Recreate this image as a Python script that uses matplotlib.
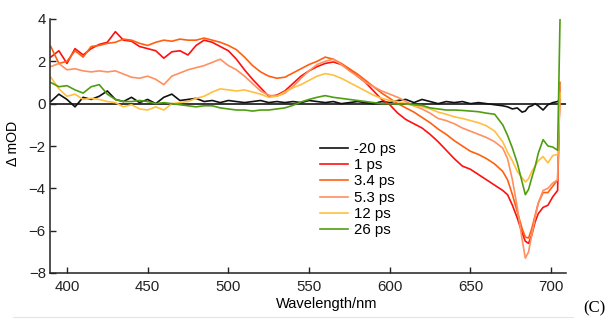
import matplotlib
matplotlib.use("Agg")
import matplotlib.pyplot as plt
from matplotlib.lines import Line2D

plt.rcParams['font.family'] = ['Liberation Sans', 'DejaVu Sans']

# wavelength grid (nm)
wavelength = [390, 395, 400, 405, 410, 415, 420, 425, 430, 435, 440, 445, 450, 455,
              460, 465, 470, 475, 480, 485, 490, 495, 500, 505, 510, 515, 520, 525,
              530, 535, 540, 545, 550, 555, 560, 565, 570, 575, 580, 585, 590, 595,
              600, 605, 610, 615, 620, 625, 630, 635, 640, 645, 650, 655, 660, 665,
              670, 673, 676, 679, 682, 684, 686, 688, 690, 692, 695, 698, 701, 704,
              705.5]

labels = ["-20 ps", "1 ps", "3.4 ps", "5.3 ps", "12 ps", "26 ps"]
colors = ["#111111", "#ff1010", "#ff6010", "#ff9060", "#ffc040", "#4f9e12"]

d_m20 = [0.1, 0.45, 0.2, -0.15, 0.3, 0.2, 0.35, 0.6, 0.2, 0.1, 0.3, 0.05, 0.2, 0.0,
         0.3, 0.45, 0.15, 0.2, 0.25, 0.1, 0.15, 0.05, 0.15, 0.1, 0.05, 0.1, 0.15, 0.05,
         0.1, 0.05, 0.1, 0.05, 0.15, 0.1, 0.05, 0.1, 0.0, 0.05, 0.1, 0.05, 0.0, 0.1,
         0.05, 0.15, 0.2, 0.05, 0.2, 0.1, 0.0, 0.1, 0.05, 0.1, 0.0, 0.05, 0.0, -0.05,
         -0.1, -0.15, -0.25, -0.2, -0.4, -0.35, -0.15, -0.1, 0.0, -0.1, -0.3, -0.05, 0.05, 0.1,
         0.2]
d_1 = [2.2, 2.5, 1.9, 2.6, 2.3, 2.6, 2.8, 2.9, 3.4, 3.0, 2.95, 2.7, 2.6, 2.5,
       2.15, 2.45, 2.5, 2.3, 2.75, 3.0, 2.9, 2.7, 2.5, 2.1, 1.6, 1.15, 0.75, 0.35,
       0.4, 0.6, 0.95, 1.3, 1.55, 1.75, 1.9, 1.97, 1.85, 1.6, 1.3, 1.0, 0.6, 0.2,
       -0.05, -0.45, -0.75, -0.95, -1.15, -1.45, -1.8, -2.2, -2.6, -2.95, -3.1, -3.35, -3.6, -3.85,
       -4.1, -4.3, -4.8, -5.4, -6.1, -6.5, -6.6, -6.2, -5.6, -5.2, -4.9, -4.8, -4.4, -4.1,
       0.8]
d_34 = [2.7, 1.9, 2.0, 2.5, 2.2, 2.7, 2.75, 2.85, 2.9, 3.05, 3.0, 2.85, 2.75, 2.9,
        3.0, 2.95, 3.05, 3.0, 3.0, 3.1, 3.0, 2.9, 2.75, 2.55, 2.2, 1.8, 1.5, 1.3,
        1.2, 1.25, 1.45, 1.65, 1.85, 2.0, 2.2, 2.1, 1.9, 1.65, 1.4, 1.1, 0.8, 0.5,
        0.25, 0.0, -0.2, -0.4, -0.65, -0.9, -1.2, -1.45, -1.75, -2.0, -2.25, -2.4, -2.6, -2.85,
        -3.2, -3.6, -4.3, -5.1, -5.9, -6.3, -6.35, -5.9, -5.3, -4.7, -4.2, -4.2, -3.9, -3.6,
        1.0]
d_53 = [1.75, 1.9, 1.6, 1.65, 1.55, 1.5, 1.55, 1.5, 1.55, 1.4, 1.25, 1.2, 1.3, 1.15,
        0.9, 1.3, 1.45, 1.6, 1.7, 1.8, 1.95, 2.1, 1.8, 1.6, 1.3, 0.95, 0.6, 0.4,
        0.35, 0.5, 0.8, 1.2, 1.55, 1.85, 2.0, 2.1, 1.85, 1.55, 1.3, 1.0, 0.8, 0.6,
        0.45, 0.3, 0.1, -0.1, -0.25, -0.45, -0.7, -0.8, -0.95, -1.15, -1.3, -1.45, -1.6, -1.8,
        -2.1, -2.6, -3.6, -4.9, -6.4, -7.3, -7.0, -6.2, -5.4, -4.7, -4.1, -4.0, -3.75, -3.6,
        0.9]
d_12 = [1.25, 0.7, 0.35, 0.45, 0.2, 0.25, 0.2, 0.1, 0.05, -0.15, -0.05, -0.25, -0.3, -0.15,
        -0.3, 0.0, 0.05, 0.1, 0.25, 0.35, 0.55, 0.7, 0.65, 0.6, 0.65, 0.55, 0.45, 0.3,
        0.35, 0.55, 0.75, 0.9, 1.1, 1.3, 1.42, 1.35, 1.2, 1.0, 0.8, 0.6, 0.4, 0.25,
        0.15, 0.1, 0.0, -0.1, -0.15, -0.25, -0.4, -0.5, -0.62, -0.7, -0.8, -0.9, -1.05, -1.3,
        -1.8, -2.3, -2.7, -3.2, -3.5, -3.7, -3.55, -3.2, -2.95, -2.7, -2.5, -2.8, -2.45, -2.4,
        0.5]
d_26 = [1.0, 0.8, 0.85, 0.65, 0.5, 0.8, 0.9, 0.45, 0.2, 0.1, 0.1, 0.15, 0.1, 0.0,
        0.05, 0.0, -0.05, -0.1, -0.15, -0.1, -0.1, -0.2, -0.25, -0.3, -0.3, -0.35, -0.3, -0.3,
        -0.25, -0.2, -0.08, 0.08, 0.2, 0.3, 0.38, 0.3, 0.25, 0.2, 0.15, 0.1, 0.05, 0.0,
        0.0, -0.02, 0.0, -0.05, -0.08, -0.2, -0.25, -0.3, -0.3, -0.32, -0.35, -0.38, -0.45, -0.5,
        -1.0, -1.5, -2.1, -2.8, -3.7, -4.3, -4.05, -3.5, -3.0, -2.35, -1.7, -2.0, -2.05, -2.2,
        4.0]

series = [d_m20, d_1, d_34, d_53, d_12, d_26]

fig = plt.figure(figsize=(6.14, 3.2), dpi=100)
ax = fig.add_axes([50 / 614, 47 / 320, 516 / 614, 254 / 320])

ax.axhline(0, color="black", lw=1.1, zorder=1)
for y, c, lab in zip(series, colors, labels):
    ax.plot(wavelength, y, color=c, lw=1.2, label=lab, zorder=2)

ax.set_xlim(389.5, 709.2)
ax.set_ylim(-8, 4)
ax.set_xticks([400, 450, 500, 550, 600, 650, 700])
ax.set_yticks([-8, -6, -4, -2, 0, 2, 4])
for s in ["top", "right"]:
    ax.spines[s].set_visible(False)
for s in ["left", "bottom"]:
    ax.spines[s].set_linewidth(1.1)
    ax.spines[s].set_color("#222222")
ax.tick_params(direction="in", length=4, width=1, labelsize=10.8, colors="#222222")
ax.tick_params(axis="x", pad=5)
ax.tick_params(axis="y", pad=3)

ax.set_xlabel("Wavelength/nm", fontsize=10.5)
ax.xaxis.set_label_coords(0.537, -0.095)
ax.set_ylabel("\u0394 mOD", fontsize=10.2)
ax.yaxis.set_label_coords(-0.058, 0.51)

ax.legend(loc="upper left", bbox_to_anchor=(320 / 614, 1 - 142 / 320),
          bbox_transform=fig.transFigure, frameon=False, fontsize=10.8,
          handlelength=1.85, handletextpad=0.45, labelspacing=0.15, borderpad=0,
          borderaxespad=0)

fig.add_artist(Line2D([13 / 614, 573 / 614], [3 / 320, 3 / 320], color="#e4e4ec", lw=0.8))
fig.text(605 / 614, 4 / 320, "(C)", ha="right", va="bottom", fontsize=12,
         family="Liberation Serif")

fig.savefig("out.png", dpi=100)
